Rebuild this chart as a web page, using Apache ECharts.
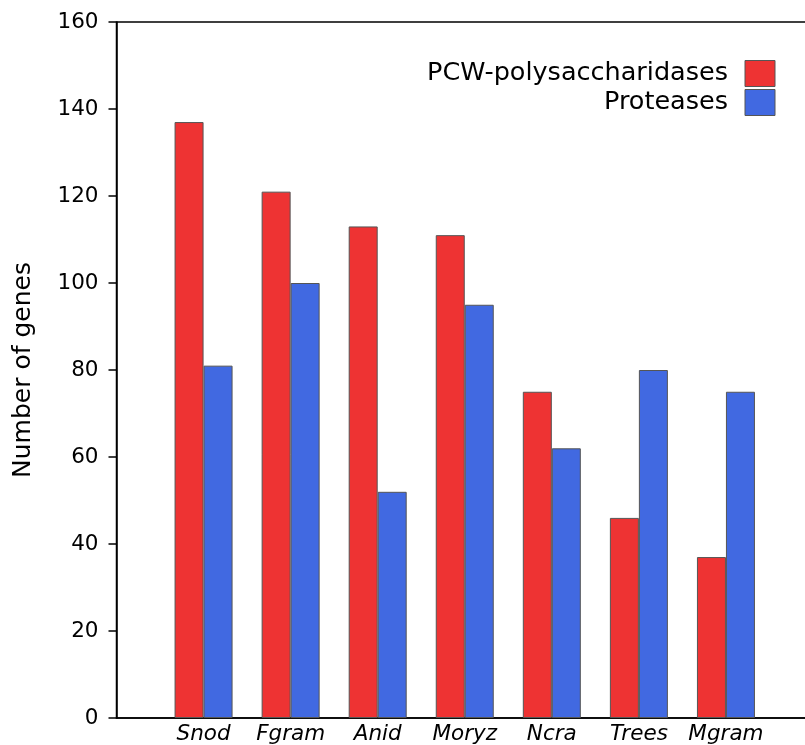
<!DOCTYPE html>
<html><head><meta charset="utf-8">
<script src="https://cdn.jsdelivr.net/npm/echarts@6/dist/echarts.min.js"></script>
<style>html,body{margin:0;padding:0;background:#fff;overflow:hidden}#c{width:816px;height:745px}</style>
</head><body><div id="c"></div>
<script>
const categories = ['', 'Snod', 'Fgram', 'Anid', 'Moryz', 'Ncra', 'Trees', 'Mgram', ''];
const pcwValues = ['-', 137, 121, 113, 111, 75, 46, 37, '-'];
const proteaseValues = ['-', 81, 100, 52, 95, 62, 80, 75, '-'];
const yTicks = [0, 20, 40, 60, 80, 100, 120, 140, 160];

const chart = echarts.init(document.getElementById('c'));
const font = 'DejaVu Sans';
chart.setOption({
  animation: false,
  backgroundColor: '#fff',
  grid: { left: 116.5, right: 0, top: 22, bottom: 27, show: true, borderColor: '#000', borderWidth: 1.5, backgroundColor: 'transparent' },
  legend: {
    right: 40.5, top: 60, orient: 'vertical', align: 'right', padding: 0,
    itemWidth: 30, itemHeight: 26, itemGap: 2, icon: 'rect',
    textStyle: { fontFamily: font, fontSize: 25.5, color: '#000', padding: [0, 12, 0, 0] },
    data: [
      { name: 'PCW-polysaccharidases', itemStyle: { borderColor: '#555', borderWidth: 1 } },
      { name: 'Proteases', itemStyle: { borderColor: '#555', borderWidth: 1 } }
    ]
  },
  xAxis: {
    type: 'category', data: categories, boundaryGap: false,
    axisLine: { lineStyle: { color: '#000', width: 1.5 } },
    axisTick: { show: false },
    axisLabel: { fontFamily: font, fontSize: 21.5, fontStyle: 'italic', color: '#000', margin: 5, interval: 0 },
    splitLine: { show: false }
  },
  yAxis: {
    type: 'value', min: yTicks[0], max: yTicks[yTicks.length - 1], interval: 20,
    name: 'Number of genes', nameLocation: 'middle', nameGap: 81,
    nameTextStyle: { fontFamily: font, fontSize: 25, color: '#000' },
    axisLine: { show: true, lineStyle: { color: '#000', width: 1.5 } },
    axisTick: { show: true, inside: false, length: 8, lineStyle: { color: '#000', width: 1.5 } },
    axisLabel: { fontFamily: font, fontSize: 21.5, color: '#000', margin: 18 },
    splitLine: { show: false }
  },
  series: [
    { name: 'PCW-polysaccharidases', type: 'bar', data: pcwValues, barWidth: 29, barGap: '0%',
      itemStyle: { color: '#EE3333', borderColor: '#555', borderWidth: 1 } },
    { name: 'Proteases', type: 'bar', data: proteaseValues, barWidth: 29, barGap: '0%',
      itemStyle: { color: '#4169E1', borderColor: '#555', borderWidth: 1 } }
  ]
});
</script></body></html>
